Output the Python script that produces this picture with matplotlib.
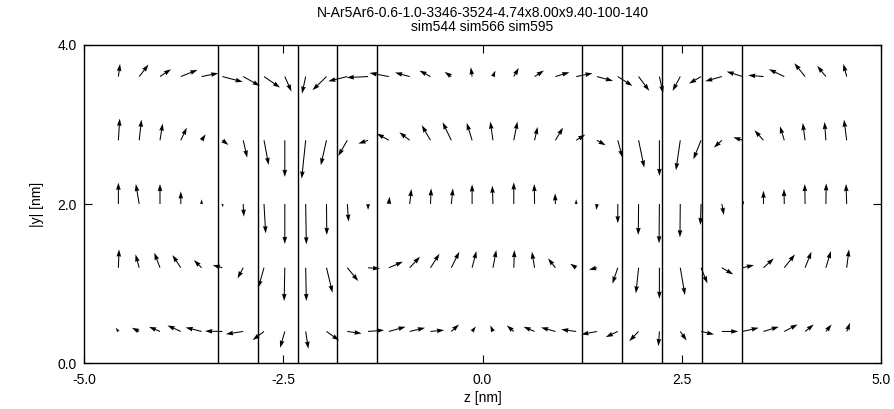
import numpy as np
import matplotlib
matplotlib.use("Agg")
import matplotlib.pyplot as plt

plt.rcParams['font.family'] = ['Liberation Sans', 'DejaVu Sans']

# bin centres (z: 36 bins over 9.40 nm, y: 5 rows)
z_centres = np.round(-4.7 + 9.40 / 36 * (np.arange(36) + 0.5), 3)
y_rows = [0.4, 1.2, 2.0, 2.8, 3.6]

# vector components per row (arbitrary units)
dz_04 = [-8, -22, -33, -40, -48, -52, -52, -34, -14, 8, 38, 43, 48, 50, 46, 41, 23, 11,
         -8, -21, -33, -43, -45, -47, -36, -28, -3, 19, 39, 49, 48, 46, 40, 26, 17, 10]
dy_04 = [11, 11, 14, 18, 12, 1, -8, -26, -49, -52, -27, -6, 4, 14, 11, 4, 21, 15,
         18, 18, 14, 12, 6, -9, -17, -29, -44, -27, -9, 0, 11, 14, 21, 21, 21, 26]
dz_12 = [2, -11, -17, -25, -23, -29, -17, -17, -2, 2, 18, 33, 36, 42, 31, 27, 24, 13,
         10, 2, -8, -22, -18, -24, -16, -8, 0, 14, 19, 34, 34, 31, 32, 19, 15, 7]
dy_12 = [55, 40, 45, 38, 23, 8, -32, -60, -100, -100, -75, -40, -3, 18, 33, 42, 48, 50,
         53, 53, 48, 28, 12, -6, -48, -77, -93, -82, -47, -20, 8, 28, 40, 48, 50, 55]
dz_20 = [0, -10, 0, 0, 0, 2, 2, 5, 0, 2, 1, 4, 0, 2, 5, 2, 5, 0,
         -2, 0, -1, -1, 0, -2, 0, -1, -1, -1, -2, 6, 4, 0, -1, -1, 1, -2]
dy_20 = [64, 60, 60, 38, 14, -10, -38, -88, -120, -121, -93, -53, -18, 22, 45, 47, 47, 59,
         55, 65, 60, 32, 14, -18, -58, -93, -118, -100, -63, -33, 10, 40, 45, 60, 62, 60]
dz_28 = [4, 7, 8, 18, 12, 18, 12, 14, 0, -12, -17, -27, -29, -36, -31, -26, -26, -16,
         -8, 11, 9, 23, 27, 26, 14, 17, 0, -13, -23, -24, -28, -27, -13, -7, -4, -8]
dy_28 = [65, 62, 50, 38, 18, -14, -52, -74, -110, -115, -75, -47, -10, 20, 24, 45, 54, 52,
         56, 56, 40, 38, 17, -15, -52, -82, -107, -90, -57, -22, 9, 30, 42, 52, 55, 62]
dz_36 = [5, 28, 33, 50, 50, 61, 50, 48, 20, -11, -42, -57, -64, -58, -44, -33, -20, -4,
         7, 15, 28, 42, 49, 48, 44, 32, 11, -23, -36, -50, -48, -46, -46, -32, -26, -10]
dy_36 = [38, 36, 22, 20, 10, -16, -28, -33, -45, -51, -41, -14, -3, 11, 12, 18, 14, 28,
         18, 26, 18, 13, 10, -13, -28, -43, -50, -43, -21, -14, 15, 4, 22, 40, 32, 38]

# slab boundaries
walls = [-3.32, -2.82, -2.32, -1.82, -1.32, 1.25, 1.75, 2.25, 2.75, 3.25]

title = "N-Ar5Ar6-0.6-1.0-3346-3524-4.74x8.00x9.40-100-140\nsim544 sim566 sim595"

Z, Y = np.meshgrid(z_centres, y_rows)
U = np.array([dz_04, dz_12, dz_20, dz_28, dz_36], dtype=float)
V = np.array([dy_04, dy_12, dy_20, dy_28, dy_36], dtype=float)

fig = plt.figure(figsize=(8.94, 4.09), dpi=100)
ax = fig.add_axes([0.094, 0.1117, 0.8915, 0.779])

for w in walls:
    ax.axvline(w, color='black', lw=1.0)

ax.quiver(Z, Y, U, V, angles='xy', scale_units='xy', scale=239,
          color='black', width=0.0013, headwidth=4.5, headlength=7,
          headaxislength=6.5)

ax.set_xlim(-5, 5)
ax.set_ylim(0, 4)
ax.set_xticks([-5, -2.5, 0, 2.5, 5])
ax.set_yticks([0, 2, 4])
ax.set_xticklabels(['-5.0', '-2.5', '0.0', '2.5', '5.0'])
ax.set_yticklabels(['0.0', '2.0', '4.0'])
ax.tick_params(direction='in', length=6, width=0.8, top=True, right=True,
               labelsize=10, pad=5)
ax.tick_params(axis='x', pad=7)
for s in ax.spines.values():
    s.set_linewidth(1.0)

ax.set_xlabel('z [nm]', fontsize=10, labelpad=3)
ax.set_ylabel('|y| [nm]', fontsize=10, labelpad=10)
ax.set_title(title, fontsize=10, pad=10, linespacing=1.0)

fig.savefig('out.png', dpi=100)
